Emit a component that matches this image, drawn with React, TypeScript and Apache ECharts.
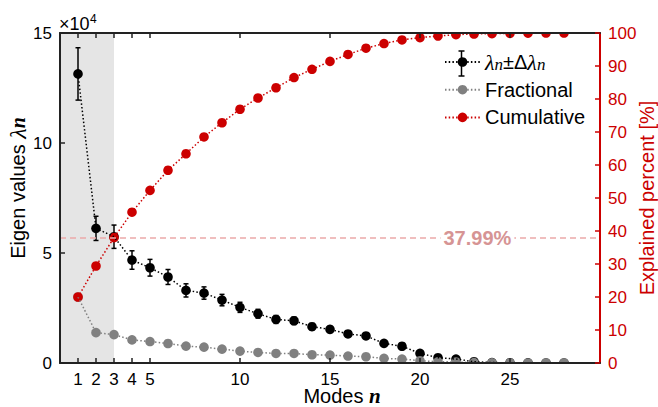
import React, { useEffect, useRef } from 'react';
import * as echarts from 'echarts';

// ---- data ----
const modes = [1, 2, 3, 4, 5, 6, 7, 8, 9, 10, 11, 12, 13, 14, 15, 16, 17, 18, 19, 20, 21, 22, 23, 24, 25, 26, 27, 28];
const eigenValues = [131400, 61200, 57400, 46800, 43300, 39100, 33000, 31800, 28600, 25300, 22400, 19800, 19200, 16500, 15300, 13200, 12300, 8900, 7600, 4400, 2400, 1800, 600, 200, 100, 50, 30, 10];
const eigenErrors = [11900, 5500, 5300, 4200, 3800, 3400, 3000, 2800, 2600, 2300, 2000, 1800, 1700, 1500, 1400, 1200, 1100, 800, 700, 400, 200, 200, 100, 0, 0, 0, 0, 0];
const fractional = [20.0, 9.2, 8.6, 7.0, 6.5, 5.9, 5.1, 4.8, 4.2, 3.6, 3.2, 2.9, 2.9, 2.5, 2.4, 2.1, 1.9, 1.4, 1.2, 0.7, 0.4, 0.3, 0.1, 0.05, 0.03, 0.02, 0.01, 0.01];
const cumulative = [20.0, 29.4, 37.99, 45.7, 52.3, 58.4, 63.4, 68.5, 72.8, 76.9, 80.3, 83.4, 86.5, 89.0, 91.4, 93.5, 95.4, 96.8, 97.9, 98.6, 99.1, 99.5, 99.7, 99.8, 99.9, 99.95, 99.98, 100];
const xTickValues = [1, 2, 3, 4, 5, 10, 15, 20, 25];
const thresholdPercent = 37.99;
const thresholdLabel = '37.99%';
const thresholdLabelAt = 23.19;
const shadeRange = [0, 3];

const SANS = '"Liberation Sans", Arial, Helvetica, sans-serif';
const SERIF = '"Liberation Serif", "Times New Roman", serif';
const RED = '#cc0000';
const GRAY = '#808080';
const BLACK = '#000000';
const DOT: number[] = [1.5, 2.2];

function markerSeries(name: string, values: number[], color: string, yAxisIndex: number) {
  return {
    type: 'custom',
    name,
    xAxisIndex: 0,
    yAxisIndex,
    clip: true,
    silent: true,
    data: modes.map((m, i) => [m, values[i]]),
    encode: { x: 0, y: 1 },
    renderItem: (_p: any, api: any) => {
      const p = api.coord([api.value(0), api.value(1)]);
      return { type: 'circle', shape: { cx: p[0], cy: p[1], r: 4.8 }, style: { fill: color, stroke: 'none' } };
    },
  };
}

export default function App() {
  const ref = useRef<HTMLDivElement>(null);
  useEffect(() => {
    if (!ref.current) return;
    const chart = echarts.init(ref.current, undefined, { renderer: 'svg' });
    const axisLabelBase = { fontFamily: SANS, fontSize: 17, lineHeight: 16, color: BLACK, margin: 8 };
    const option: any = {
      animation: false,
      backgroundColor: '#ffffff',
      grid: { left: 60, right: 58, top: 33, bottom: 44, containLabel: false, outerBoundsMode: 'none' },
      title: [
        {
          left: 59, top: 15, padding: 0, text: '×10',
          textStyle: { fontFamily: SANS, fontSize: 18, fontWeight: 'normal', color: BLACK },
        },
        {
          left: 90, top: 13, padding: 0, text: '4',
          textStyle: { fontFamily: SANS, fontSize: 12, fontWeight: 'normal', color: BLACK },
        },
      ],
      xAxis: [
        {
          type: 'value', position: 'bottom', min: 0, max: 30, z: 5,
          name: 'Modes {n|n}', nameLocation: 'middle', nameGap: 25, nameMoveOverlap: false,
          nameTextStyle: {
            fontFamily: SANS, fontSize: 20, color: BLACK, lineHeight: 16, padding: [0, 0, 0, 24],
            rich: { n: { fontFamily: SERIF, fontStyle: 'italic', fontWeight: 'bold', fontSize: 21, lineHeight: 16 } },
          },
          axisLine: { show: true, onZero: false, lineStyle: { color: '#222', width: 2 } },
          axisTick: { show: true, inside: true, length: 5, customValues: xTickValues, lineStyle: { color: '#222', width: 1.5 } },
          axisLabel: { ...axisLabelBase, customValues: xTickValues },
          splitLine: { show: false },
        },
        {
          type: 'value', position: 'top', min: 0, max: 30, z: 5,
          axisLine: { show: true, onZero: false, lineStyle: { color: '#222', width: 2 } },
          axisTick: { show: true, inside: true, length: 5, customValues: xTickValues, lineStyle: { color: '#222', width: 1.5 } },
          axisLabel: { show: false },
          splitLine: { show: false },
        },
      ],
      yAxis: [
        {
          type: 'value', position: 'left', min: 0, max: 150000, interval: 50000, z: 5,
          name: 'Eigen values {l|λ}{n|n}', nameLocation: 'middle', nameRotate: 90, nameGap: 30, nameMoveOverlap: false,
          nameTextStyle: {
            fontFamily: SANS, fontSize: 20, color: BLACK, padding: [0, 0, 0, 20],
            rich: {
              l: { fontFamily: SERIF, fontStyle: 'italic', fontSize: 24 },
              n: { fontFamily: SERIF, fontStyle: 'italic', fontWeight: 'bold', fontSize: 20 },
            },
          },
          axisLine: { show: true, onZero: false, lineStyle: { color: '#222', width: 2 } },
          axisTick: { show: true, inside: true, length: 5, lineStyle: { color: '#222', width: 1.5 } },
          axisLabel: { ...axisLabelBase, formatter: (v: number) => String(v / 10000) },
          splitLine: { show: false },
        },
        {
          type: 'value', position: 'right', min: 0, max: 100, interval: 10, z: 5,
          name: 'Explained percent [%]', nameLocation: 'middle', nameRotate: 90, nameGap: 37, nameMoveOverlap: false,
          nameTextStyle: { fontFamily: SANS, fontSize: 20, color: RED },
          axisLine: { show: true, onZero: false, lineStyle: { color: RED, width: 2 } },
          axisTick: { show: true, inside: true, length: 5, lineStyle: { color: RED, width: 1.5 } },
          axisLabel: { ...axisLabelBase, color: RED },
          splitLine: { show: false },
        },
      ],
      legend: {
        orient: 'vertical', left: 444, top: 51, itemWidth: 35, itemHeight: 12, itemGap: 5.7, padding: 0,
        selectedMode: false,
        data: ['lambda', 'Fractional', 'Cumulative'],
        formatter: (name: string) => (name === 'lambda' ? '{g|λ}{i|n}{t|±Δ}{g|λ}{i|n}' : name),
        textStyle: {
          fontFamily: SANS, fontSize: 20, color: BLACK, lineHeight: 22,
          rich: {
            g: { fontFamily: SERIF, fontStyle: 'italic', fontSize: 22, lineHeight: 22 },
            i: { fontFamily: SERIF, fontStyle: 'italic', fontSize: 17, lineHeight: 14, verticalAlign: 'bottom' },
            t: { fontFamily: SANS, fontSize: 20, lineHeight: 22 },
          },
        },
      },
      graphic: [
        {
          type: 'group', silent: true,
          children: [
            { type: 'line', shape: { x1: 461.5, y1: 51, x2: 461.5, y2: 76 }, style: { stroke: BLACK, lineWidth: 1.5 } },
            { type: 'line', shape: { x1: 458.5, y1: 51, x2: 464.5, y2: 51 }, style: { stroke: BLACK, lineWidth: 1.5 } },
            { type: 'line', shape: { x1: 458.5, y1: 76, x2: 464.5, y2: 76 }, style: { stroke: BLACK, lineWidth: 1.5 } },
          ],
        },
      ],
      series: [
        {
          type: 'line', name: 'lambda', xAxisIndex: 0, yAxisIndex: 0,
          data: modes.map((m, i) => [m, eigenValues[i]]),
          showSymbol: false, symbol: 'circle', symbolSize: 10,
          lineStyle: { color: BLACK, width: 1.5, type: DOT },
          itemStyle: { color: BLACK },
          markArea: {
            silent: true,
            itemStyle: { color: '#e5e5e5' },
            data: [[{ xAxis: shadeRange[0] }, { xAxis: shadeRange[1] }]],
          },
        },
        {
          type: 'custom', name: 'lambdaError', xAxisIndex: 0, yAxisIndex: 0, clip: true, silent: true,
          data: modes.map((m, i) => [m, eigenValues[i] - eigenErrors[i], eigenValues[i] + eigenErrors[i]]),
          encode: { x: 0, y: [1, 2] },
          renderItem: (_p: any, api: any) => {
            const x = api.value(0);
            const lo = api.coord([x, api.value(1)]);
            const hi = api.coord([x, api.value(2)]);
            const w = 2.5;
            const st = { stroke: BLACK, lineWidth: 1.5 };
            return {
              type: 'group',
              children: [
                { type: 'line', shape: { x1: hi[0], y1: hi[1], x2: lo[0], y2: lo[1] }, style: st },
                { type: 'line', shape: { x1: hi[0] - w, y1: hi[1], x2: hi[0] + w, y2: hi[1] }, style: st },
                { type: 'line', shape: { x1: lo[0] - w, y1: lo[1], x2: lo[0] + w, y2: lo[1] }, style: st },
              ],
            };
          },
        },
        markerSeries('lambdaMarkers', eigenValues, BLACK, 0),
        {
          type: 'line', name: 'Fractional', xAxisIndex: 0, yAxisIndex: 1,
          data: modes.map((m, i) => [m, fractional[i]]),
          showSymbol: false, symbol: 'circle', symbolSize: 10,
          lineStyle: { color: GRAY, width: 1.5, type: DOT },
          itemStyle: { color: GRAY },
        },
        markerSeries('fractionalMarkers', fractional, GRAY, 1),
        {
          type: 'line', name: 'Cumulative', xAxisIndex: 0, yAxisIndex: 1,
          data: modes.map((m, i) => [m, cumulative[i]]),
          showSymbol: false, symbol: 'circle', symbolSize: 10,
          lineStyle: { color: RED, width: 1.5, type: DOT },
          itemStyle: { color: RED },
          markLine: {
            silent: true, symbol: 'none',
            label: { show: false },
            lineStyle: { color: '#eba9a9', width: 1.5, type: [6, 4] },
            data: [{ yAxis: thresholdPercent }],
          },
          markPoint: {
            silent: true, symbol: 'circle', symbolSize: 0,
            itemStyle: { color: 'transparent' },
            label: {
              show: true, position: 'inside', formatter: thresholdLabel,
              fontFamily: SANS, fontSize: 20, fontWeight: 'bold', color: '#d69494',
              backgroundColor: '#ffffff', padding: [0, 3],
            },
            data: [{ coord: [thresholdLabelAt, thresholdPercent] }],
          },
        },
        markerSeries('cumulativeMarkers', cumulative, RED, 1),
      ],
    };
    chart.setOption(option);
    return () => chart.dispose();
  }, []);
  return <div ref={ref} style={{ position: 'fixed', left: 0, top: 0, width: 658, height: 407 }} />;
}
